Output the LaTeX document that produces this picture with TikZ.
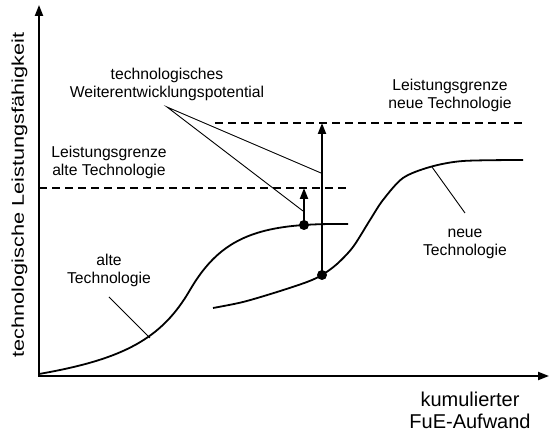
\documentclass[tikz,border=0pt]{standalone}
\usepackage{fontspec}
\setmainfont{Liberation Sans}
\usetikzlibrary{arrows.meta}
\begin{document}
\begin{tikzpicture}[x=1pt,y=-1pt,
  tip/.style={-{Triangle[length=11pt,width=8pt]}},
  axisline/.style={line width=2pt,line join=miter},
  curve/.style={line width=1.8pt,line join=round},
  limit/.style={line width=1.6pt,dash pattern=on 8pt off 5pt},
  pointer/.style={line width=0.9pt},
  gain/.style={line width=2.2pt,tip},
  dot/.style={circle,fill,inner sep=0pt,minimum size=10pt},
  lbl/.style={inner sep=0pt,align=center,font=\fontsize{15.7}{18}\selectfont},
  axlbl/.style={inner sep=0pt,align=center,font=\fontsize{20}{22}\selectfont},
]
\useasboundingbox (0,0) rectangle (550,435);

% axes
\coordinate (O) at (39,376);
\coordinate (ytip) at (39,5);
\coordinate (xtip) at (549,376);
\draw[axisline,{Triangle[length=11pt,width=8pt]}-{Triangle[length=11pt,width=8pt]}]
  (ytip) -- (O) -- (xtip);

\node[rotate=90,inner sep=0pt] (ylab) at (19.5,195)
  {\fontsize{17}{20}\selectfont\scalebox{1.28}[1]{technologische Leistungsfähigkeit}};
\node[axlbl] (xlab) at (470,410) {kumulierter\\FuE-Aufwand};

% performance limits
\coordinate (oldL) at (39,188);
\coordinate (oldR) at (348,188);
\coordinate (newL) at (215,123);
\coordinate (newR) at (523,123);
\draw[limit] (oldL) -- (oldR);
\draw[limit] (newL) -- (newR);

% S-curves
\draw[curve] (39,374) .. controls (125,359) and (162,338) .. (190,290)
  .. controls (215.2,246.8) and (245,229) .. (304,225)
  .. controls (322,223.8) and (335,224) .. (348,224);
\draw[curve] plot[smooth,tension=0.5] coordinates
  {(213,308) (243,302) (277,292) (307,282) (322,275) (337,264) (353,247)
   (370,220) (383,200) (403,178) (430,167) (463,161) (523,160)};

% current states and remaining potential
\node[dot] (oldnow) at (304,225) {};
\node[dot] (newnow) at (322,275) {};
\coordinate (oldtop) at (304,188);
\coordinate (newtop) at (322,123);
\draw[gain] (oldnow.center) -- (oldtop);
\draw[gain] (newnow.center) -- (newtop);

% labels with leader lines
\node[lbl] (pot) at (167,84) {technologisches\\Weiterentwicklungspotential};
\coordinate (potfoot) at (167,107);
\coordinate (potA) at (321,173);
\coordinate (potB) at (303,211);
\draw[pointer] (potA) -- (potfoot) -- (potB);

\node[lbl] (oldlim) at (109,162) {Leistungsgrenze\\alte Technologie};
\node[lbl] (newlim) at (450,95) {Leistungsgrenze\\neue Technologie};

\node[lbl] (old) at (109,270.5) {alte\\Technologie};
\coordinate (oldfoot) at (109,297);
\coordinate (oldon) at (150,338);
\draw[pointer] (oldfoot) -- (oldon);

\node[lbl] (new) at (465,244) {neue\\Technologie};
\coordinate (newfoot) at (465,213);
\coordinate (newon) at (432,167);
\draw[pointer] (newfoot) -- (newon);
\end{tikzpicture}
\end{document}
